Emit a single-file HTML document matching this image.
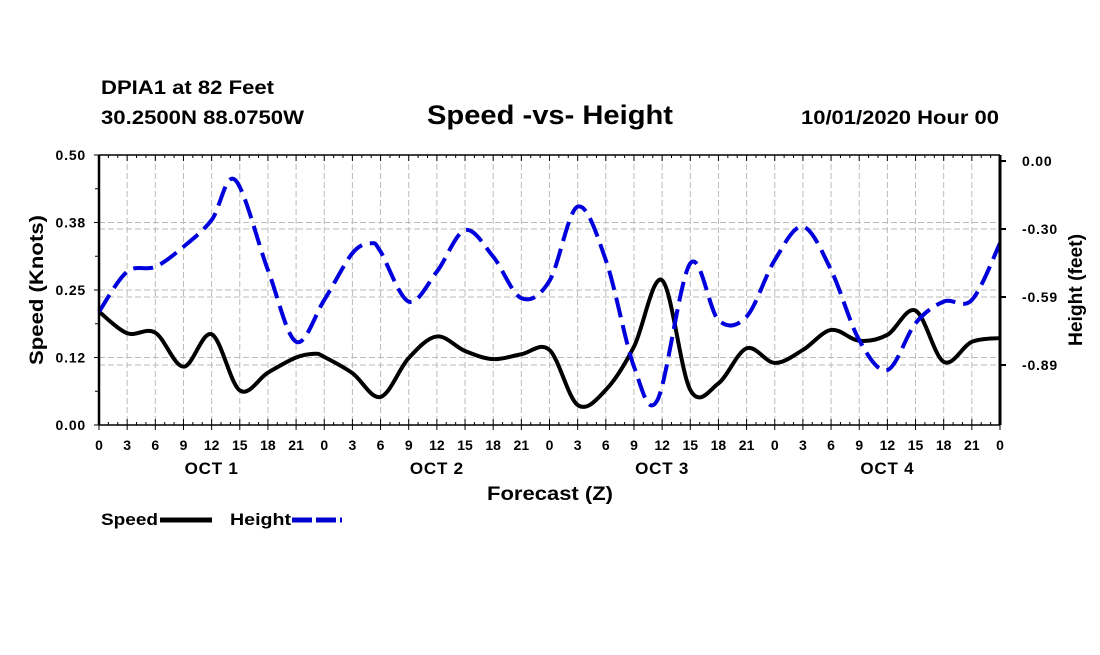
<!DOCTYPE html>
<html><head><meta charset="utf-8"><style>
body{margin:0;background:#fff;}
svg text{font-family:"Liberation Sans",sans-serif;font-weight:bold;fill:#000;}
</style></head><body>
<svg id="chart" width="1100" height="650" xmlns="http://www.w3.org/2000/svg">
<text x="101" y="94" font-size="19" textLength="173" lengthAdjust="spacingAndGlyphs">DPIA1 at 82 Feet</text>
<text x="101" y="124" font-size="19" textLength="203" lengthAdjust="spacingAndGlyphs">30.2500N 88.0750W</text>
<text x="427" y="124" font-size="27" textLength="246" lengthAdjust="spacingAndGlyphs">Speed -vs- Height</text>
<text x="801" y="124" font-size="19" textLength="198" lengthAdjust="spacingAndGlyphs">10/01/2020 Hour 00</text>
<g id="grid"></g>
<g id="series"></g>
<g id="axes"></g>
<text transform="translate(43,290) rotate(-90)" font-size="19" text-anchor="middle" textLength="150" lengthAdjust="spacingAndGlyphs">Speed (Knots)</text>
<text transform="translate(1082,290) rotate(-90)" font-size="19" text-anchor="middle" textLength="112" lengthAdjust="spacingAndGlyphs">Height (feet)</text>
<text x="550" y="500" font-size="19" text-anchor="middle" textLength="126" lengthAdjust="spacingAndGlyphs">Forecast (Z)</text>
<g>
<text x="101" y="525" font-size="17" textLength="57" lengthAdjust="spacingAndGlyphs">Speed</text>
<line x1="160" y1="520" x2="212" y2="520" stroke="#000" stroke-width="5"/>
<text x="230" y="525" font-size="17" textLength="61" lengthAdjust="spacingAndGlyphs">Height</text>
<line x1="292" y1="520" x2="342" y2="520" stroke="#00c" stroke-width="5" stroke-dasharray="20,4"/>
</g>
</svg>
<script>
const speedHours=[0,3,6,9,12,15,18,21,23,24,27,30,33,36,39,42,45,48,51,54,57,60,63,66,69,72,75,78,81,84,87,90,93,96];
const speedVals=[0.21,0.17,0.171,0.108,0.168,0.064,0.097,0.125,0.132,0.126,0.096,0.052,0.124,0.164,0.137,0.122,0.131,0.139,0.037,0.065,0.145,0.268,0.065,0.077,0.142,0.115,0.139,0.176,0.156,0.167,0.212,0.117,0.154,0.161];
const heightHours=[0,3,6,9,12,14.5,18,21,24,27,29,30,33,36,39,42,45,48,51,54,57,59.5,63,66,69,72,75,78,81,84,87,90,93,96];
const heightVals=[-0.654,-0.48,-0.459,-0.372,-0.256,-0.082,-0.473,-0.784,-0.603,-0.40,-0.357,-0.393,-0.61,-0.48,-0.30,-0.415,-0.595,-0.52,-0.198,-0.43,-0.892,-1.037,-0.444,-0.69,-0.675,-0.43,-0.285,-0.473,-0.777,-0.907,-0.704,-0.61,-0.603,-0.357];
const speedTicks=["0.00","0.12","0.25","0.38","0.50"];
const speedTickVals=[0,0.125,0.25,0.375,0.5];
const heightTicks=["0.00","-0.30","-0.59","-0.89"];
const heightTickVals=[0,-0.295,-0.59,-0.885];
const hourLabels=["0","3","6","9","12","15","18","21"];
const dayLabels=["OCT 1","OCT 2","OCT 3","OCT 4"];

const X0=99,X1=1000,Y0=425,Y1=155;
const xs=h=>X0+(X1-X0)*h/96;
const ys=v=>Y0-(Y0-Y1)*v/0.5;
const yh=v=>161-v*230.5;
const NS="http://www.w3.org/2000/svg";
function mk(tag,attrs,parent){const e=document.createElementNS(NS,tag);for(const k in attrs)e.setAttribute(k,attrs[k]);parent.appendChild(e);return e;}
const grid=document.getElementById('grid'),axes=document.getElementById('axes'),ser=document.getElementById('series');
for(let h=3;h<96;h+=3){const g=mk('line',{x1:xs(h),x2:xs(h),y1:Y1,y2:Y0,stroke:'#bbb','stroke-dasharray':'6,3'},grid);

}
speedTickVals.forEach((v,i)=>{
 if(v>0&&v<0.5){const g=mk('line',{x1:X0,x2:X1,y1:ys(v),y2:ys(v),stroke:'#bbb','stroke-dasharray':'6,3'},grid);
 
 }
 const t=mk('text',{x:86,y:ys(v)+5,'font-size':14,'text-anchor':'end','letter-spacing':0.8},axes);t.textContent=speedTicks[i];
 
 
 mk('line',{x1:X0-5,x2:X0,y1:ys(v),y2:ys(v),stroke:'#000'},axes);
});
[0.0625,0.1875,0.3125,0.4375].forEach(v=>mk('line',{x1:X0-4,x2:X0,y1:ys(v),y2:ys(v),stroke:'#000'},axes));
heightTickVals.forEach((v,i)=>{
 if(v<0){const g=mk('line',{x1:X0,x2:X1,y1:yh(v),y2:yh(v),stroke:'#bbb','stroke-dasharray':'6,3'},grid);
 
 }
 const t=mk('text',{x:1022,y:yh(v)+5,'font-size':14,'letter-spacing':0.8},axes);t.textContent=heightTicks[i];
 
 
 mk('line',{x1:X1,x2:X1+6,y1:yh(v),y2:yh(v),stroke:'#000','stroke-width':2},axes);
});
mk('line',{x1:X0,x2:X1,y1:Y1,y2:Y1,stroke:'#000','stroke-width':1.5},axes);
mk('line',{x1:X0,x2:X1,y1:Y0,y2:Y0,stroke:'#000','stroke-width':1.5},axes);
mk('line',{x1:X0,x2:X0,y1:Y1,y2:Y0,stroke:'#000','stroke-width':2.5},axes);
mk('line',{x1:X1,x2:X1,y1:Y1,y2:Y0,stroke:'#000','stroke-width':3},axes);
for(let h=0;h<=96;h+=1){const l=h%3===0?6:3;mk('line',{x1:xs(h),x2:xs(h),y1:Y1,y2:Y1+l,stroke:'#000'},axes);mk('line',{x1:xs(h),x2:xs(h),y1:Y0,y2:Y0-l,stroke:'#000'},axes);
 if(h%3===0){mk('line',{x1:xs(h),x2:xs(h),y1:Y0,y2:Y0+5,stroke:'#000'},axes);
 const t=mk('text',{x:xs(h),y:450,'font-size':14,'text-anchor':'middle'},axes);t.textContent=hourLabels[(h/3)%8];
 
 }}
dayLabels.forEach((d,i)=>{const t=mk('text',{x:xs(12+24*i),y:474,'font-size':17,'text-anchor':'middle','letter-spacing':0.8},axes);t.textContent=d;
 
 });
function smooth(pts){let d=`M${pts[0][0]},${pts[0][1]}`;
 for(let i=0;i<pts.length-1;i++){const p0=pts[Math.max(0,i-1)],p1=pts[i],p2=pts[i+1],p3=pts[Math.min(pts.length-1,i+2)];
 d+=` C${p1[0]+(p2[0]-p0[0])/6},${p1[1]+(p2[1]-p0[1])/6} ${p2[0]-(p3[0]-p1[0])/6},${p2[1]-(p3[1]-p1[1])/6} ${p2[0]},${p2[1]}`;}return d;}
const sp=mk('path',{d:smooth(speedHours.map((h,i)=>[xs(h),ys(speedVals[i])])),fill:'none',stroke:'#000','stroke-width':4,'stroke-linejoin':'round'},ser);


const hp=mk('path',{d:smooth(heightHours.map((h,i)=>[xs(h),yh(heightVals[i])])),fill:'none',stroke:'#0000dd','stroke-width':4,'stroke-dasharray':'20,8'},ser);


</script>
</body></html>
